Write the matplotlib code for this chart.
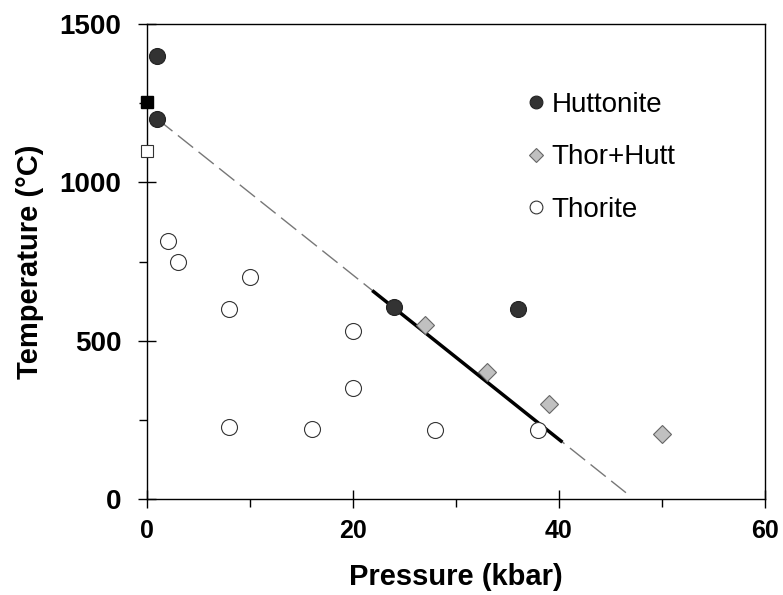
import matplotlib.pyplot as plt
from matplotlib.ticker import MultipleLocator

plt.rcParams['font.family'] = ['Liberation Sans', 'DejaVu Sans']

# Huttonite
hutt_p = [1, 1, 24, 36]
hutt_t = [1400, 1200, 605, 600]

# Thorite + Huttonite
mix_p = [27, 33, 39, 50]
mix_t = [550, 400, 300, 205]

# Thorite
thor_p = [2, 3, 8, 10, 8, 16, 20, 20, 28, 38]
thor_t = [815, 750, 600, 700, 228, 222, 530, 350, 218, 218]

# squares on the T axis
sq_filled_p, sq_filled_t = [0], [1255]
sq_open_p, sq_open_t = [0], [1100]

# phase boundary
dash_p = [1, 46.5]
dash_t = [1200, 20]
solid_p = [22, 40.2]
solid_t = [655, 183]

fig = plt.figure(figsize=(7.83, 5.95), dpi=100)
ax = fig.add_axes([0.1877, 0.1613, 0.977 - 0.1877, 0.9597 - 0.1613])

ax.plot(dash_p, dash_t, color='#777777', lw=1, dashes=(14, 5), zorder=1)
ax.plot(solid_p, solid_t, color='black', lw=2.5, zorder=2)

ax.plot(hutt_p, hutt_t, 'o', ms=11.5, mfc='#333333', mec='#222222', mew=0.8,
        label='Huttonite', zorder=4, clip_on=False)
ax.plot(mix_p, mix_t, 'D', ms=9.5, mfc='#c0c0c0', mec='#666666', mew=0.8,
        label='Thor+Hutt', zorder=4)
ax.plot(thor_p, thor_t, 'o', ms=11.5, mfc='white', mec='#333333', mew=0.8,
        label='Thorite', zorder=4)
ax.plot(sq_filled_p, sq_filled_t, 's', ms=9, mfc='black', mec='black',
        zorder=5, clip_on=False)
ax.plot(sq_open_p, sq_open_t, 's', ms=9, mfc='white', mec='#333333', mew=0.8,
        zorder=5, clip_on=False)

ax.set_xlim(0, 60)
ax.set_ylim(0, 1500)
ax.xaxis.set_major_locator(MultipleLocator(20))
ax.xaxis.set_minor_locator(MultipleLocator(10))
ax.yaxis.set_major_locator(MultipleLocator(500))
ax.yaxis.set_minor_locator(MultipleLocator(250))
ax.tick_params(which='major', direction='inout', length=13, width=1)
ax.tick_params(which='minor', direction='out', length=6, width=1)
ax.tick_params(axis='x', which='major', labelsize=18, pad=8)
ax.tick_params(axis='y', which='major', labelsize=20, pad=12)
for lab in ax.get_xticklabels() + ax.get_yticklabels():
    lab.set_fontweight('bold')
for sp in ax.spines.values():
    sp.set_linewidth(1)

ax.set_xlabel('Pressure (kbar)', fontsize=21, fontweight='bold', labelpad=14)
ax.set_ylabel('Temperature (\u00b0C)', fontsize=21, fontweight='bold', labelpad=11)

ax.legend(loc='upper left', bbox_to_anchor=(0.585, 0.886), frameon=False,
          fontsize=20, handletextpad=0.05, labelspacing=0.95, markerscale=0.8,
          handlelength=1.0, borderpad=0)

fig.savefig('out.png', dpi=100)
